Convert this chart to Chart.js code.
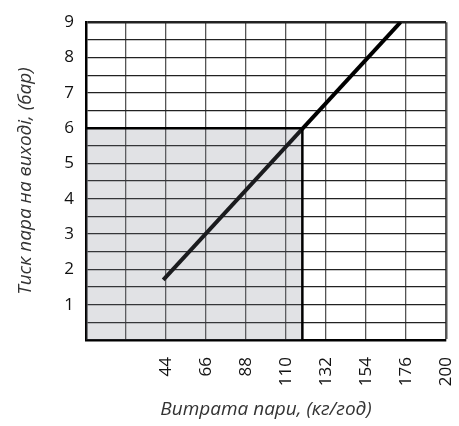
<!DOCTYPE html>
<html>
<head>
<meta charset="utf-8">
<script src="https://cdn.jsdelivr.net/npm/chart.js@4.4.1/dist/chart.umd.min.js"></script>
<style>
  html, body { margin: 0; padding: 0; background: #fff; }
  #wrap { width: 459px; height: 426px; }
</style>
</head>
<body>
<div id="wrap"><canvas id="chart"></canvas></div>
<script>
// Витрата пари (кг/год) -> тиск пара на виході (бар)
const lineX = [42.5, 173];
const lineY = [1.7, 9];

// Робоча зона (сіра)
const zoneX = [0, 119, 119];
const zoneY = [6, 6, 0];

// Поділки осей
const xTicks = [0, 22, 44, 66, 88, 110, 132, 154, 176, 198];
const xTickLabels = ['', '', '44', '66', '88', '110', '132', '154', '176', '200'];
const yTickLabels = ['1', '2', '3', '4', '5', '6', '7', '8', '9'];

const toPoints = (xs, ys) => xs.map((x, i) => ({ x: x, y: ys[i] }));

new Chart(document.getElementById('chart'), {
  type: 'line',
  data: {
    datasets: [
      {
        data: toPoints(zoneX, zoneY),
        borderColor: '#000',
        borderWidth: 2.5,
        backgroundColor: 'rgba(120,125,135,0.22)',
        fill: 'origin',
        pointRadius: 0,
        tension: 0
      },
      {
        data: toPoints(lineX, lineY),
        borderColor: '#000',
        borderWidth: 4,
        fill: false,
        pointRadius: 0,
        tension: 0
      }
    ]
  },
  options: {
    responsive: true,
    maintainAspectRatio: false,
    animation: false,
    layout: { padding: { top: 17, right: 13, left: 10, bottom: 1 } },
    plugins: { legend: { display: false }, tooltip: { enabled: false } },
    scales: {
      x: {
        type: 'linear',
        min: 0,
        max: 198,
        afterBuildTicks: axis => { axis.ticks = xTicks.map(v => ({ value: v })); },
        afterFit: axis => {
          axis.height = 85;
          axis.paddingLeft = 0;
          axis.paddingRight = 0;
        },
        ticks: {
          autoSkip: false,
          minRotation: 90,
          maxRotation: 90,
          padding: 17,
          color: '#111',
          font: { family: 'Open Sans', size: 17 },
          callback: (v, i) => xTickLabels[i]
        },
        grid: {
          color: '#555',
          lineWidth: ctx => ctx.tick && ctx.tick.value === 198 ? 2.5 : 1.3,
          drawTicks: false
        },
        border: { color: '#000', width: 2.5 },
        title: {
          display: true,
          text: 'Витрата пари, (кг/год)',
          color: '#333',
          font: { family: 'Open Sans', size: 19, style: 'italic' },
          padding: { top: 14 }
        }
      },
      y: {
        type: 'linear',
        min: 0,
        max: 9,
        afterFit: axis => { axis.width = 76; },
        ticks: {
          stepSize: 0.5,
          autoSkip: false,
          padding: 12,
          color: '#111',
          font: { family: 'Open Sans', size: 17 },
          callback: v => (Number.isInteger(v) && v > 0) ? yTickLabels[v - 1] : ''
        },
        grid: {
          color: '#222',
          lineWidth: ctx => ctx.tick && ctx.tick.value === 9 ? 2.5 : 1.3,
          drawTicks: false
        },
        border: { color: '#000', width: 2.5 },
        title: {
          display: true,
          text: 'Тиск пара на виході, (бар)',
          color: '#333',
          font: { family: 'Open Sans', size: 19, style: 'italic' },
          padding: { bottom: 10 }
        }
      }
    }
  }
});
</script>
</body>
</html>
